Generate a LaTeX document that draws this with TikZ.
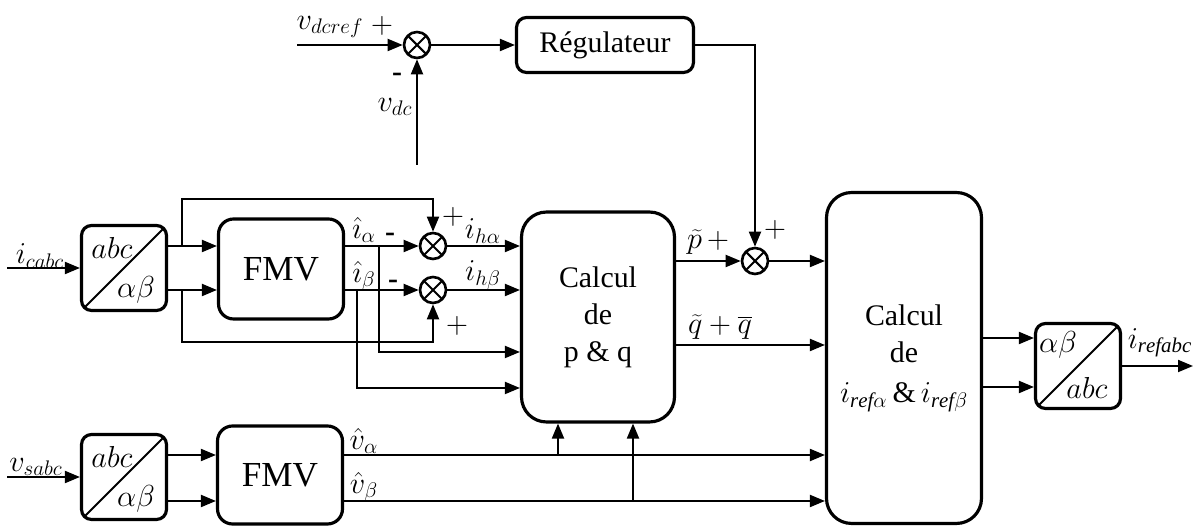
\documentclass[tikz,border=0pt]{standalone}
\usepackage{fontspec}
\setmainfont{Liberation Serif}
\usetikzlibrary{arrows.meta,positioning}

\begin{document}
\begin{tikzpicture}[x=0.02cm,y=-0.02cm,
  font=\fontsize{17}{21}\selectfont,
  conn/.style={line width=1.1pt},
  arr/.style={conn,-{Triangle[length=0.3cm,width=0.24cm]}},
  lab/.style={inner sep=1pt},
  blockbox/.style={draw,line width=1.8pt,rounded corners=0.3cm,align=center,inner sep=0pt},
  convbox/.style={draw,line width=1.8pt,rounded corners=0.2cm,minimum width=1.7cm,
    minimum height=1.7cm,inner sep=0pt,
    path picture={\draw[line width=1.1pt] (path picture bounding box.south west)
      -- (path picture bounding box.north east);}},
  sumnode/.style={circle,draw,line width=1.5pt,minimum size=0.52cm,inner sep=0pt,
    path picture={\draw[line width=1.2pt]
      ([shift={(45:0.3cm)}]path picture bounding box.center) -- ([shift={(225:0.3cm)}]path picture bounding box.center)
      ([shift={(135:0.3cm)}]path picture bounding box.center) -- ([shift={(-45:0.3cm)}]path picture bounding box.center);}}]

\useasboundingbox (0,0) rectangle (1201,526);

% ---------- DC voltage loop ----------
\node[sumnode] (s1) at (417,45) {};
\node[blockbox, minimum width=3.54cm, minimum height=1.1cm, rounded corners=0.2cm] (reg) at (605,45) {Régulateur};
\coordinate (vref) at (297,45);
\coordinate (vdcin) at (417,165);
\draw[arr] (vref) -- (s1);
\draw[arr] (vdcin) -- (s1);
\draw[arr] (s1) -- (reg);
\node[lab] (lvref) at (330,27) {$v_{dcref}$};
\node[lab] (lp1) at (382,26) {$+$};
\node[lab] (lm1) at (397,77) {\textbf{-}};
\node[lab] (lvdc) at (395,107) {$v_{dc}$};

% ---------- current branch ----------
\node[convbox] (b1) at (124,268) {};
\node[lab] (b1u) at ([shift={(-12,-20)}]b1.center) {$abc$};
\node[lab] (b1d) at ([shift={(12,22)}]b1.center) {$\alpha\beta$};
\node[blockbox, minimum width=2.5cm, minimum height=2cm, font=\fontsize{20}{24}\selectfont] (fmv1) at (281,269) {FMV};
\node[sumnode] (sa) at (433,246) {};
\node[sumnode] (sb) at (433,290) {};
\node[blockbox, minimum width=3.06cm, minimum height=4.2cm, rounded corners=0.5cm] (pq) at (598,317) {Calcul\\de\\p \& q};

\coordinate (iin) at (7,268);
\draw[arr] (iin) -- (b1);
\draw[arr] (b1.east |- sa) -- (fmv1.west |- sa);
\draw[arr] (b1.east |- sb) -- (fmv1.west |- sb);
\coordinate (ja) at (182,246);
\coordinate (jb) at (182,290);
\draw[arr] (ja) -- ++(0,-47) -| (sa.north);
\draw[arr] (jb) -- ++(0,52) -| (sb.south);
\draw[arr] (fmv1.east |- sa) -- (sa);
\draw[arr] (fmv1.east |- sb) -- (sb);
\draw[arr] (sa) -- (sa -| pq.west);
\draw[arr] (sb) -- (sb -| pq.west);
\coordinate (ka) at (379,246);
\coordinate (kb) at (357,290);
\draw[arr] (ka) |- ([yshift=-0.7cm]pq.west);
\draw[arr] (kb) |- ([yshift=-1.42cm]pq.west);

\node[lab] (licabc) at (40,256) {$i_{cabc}$};
\node[lab] (lia) at (364,230) {$\hat{\imath}_\alpha$};
\node[lab] (lib) at (364,276) {$\hat{\imath}_\beta$};
\node[lab] (lma) at (390,237) {\textbf{-}};
\node[lab] (lmb) at (393,284) {\textbf{-}};
\node[lab] (lpa) at (453,217) {$+$};
\node[lab] (liha) at (483,231) {$i_{h\alpha}$};
\node[lab] (lihb) at (483,275) {$i_{h\beta}$};
\node[lab] (lpb) at (457,326) {$+$};

% ---------- power to reference ----------
\node[sumnode] (sc) at (755,261) {};
\node[blockbox, minimum width=3.1cm, minimum height=6.62cm, rounded corners=0.5cm] (iref) at (904,358) {Calcul\\de\\[2pt]$i_{\mathit{ref}\alpha}\,\&\,i_{\mathit{ref}\beta}$};
\coordinate (qo) at ([yshift=-0.56cm]pq.east);
\draw[arr] (pq.east |- sc) -- (sc);
\draw[arr] (sc) -- (sc -| iref.west);
\draw[arr] (reg) -| (sc);
\draw[arr] (qo) -- (qo -| iref.west);

\node[lab] (lpt) at (708,242) {$\widetilde{p}\,+$};
\node[lab] (lpc) at (775,230) {$+$};
\node[lab] (lq) at (720,327) {$\widetilde{q}+\overline{q}$};

% ---------- output transform ----------
\node[convbox] (b3) at (1078,366) {};
\node[lab] (b3u) at ([shift={(-20,-21)}]b3.center) {$\alpha\beta$};
\node[lab] (b3d) at ([shift={(9,22)}]b3.center) {$abc$};
\coordinate (b3a) at ([yshift=0.56cm]b3.west);
\coordinate (b3b) at ([yshift=-0.42cm]b3.west);
\coordinate (iout) at (1193,366);
\draw[arr] (b3a -| iref.east) -- (b3a);
\draw[arr] (b3b -| iref.east) -- (b3b);
\draw[arr] (b3) -- (iout);
\node[lab] (lout) at (1160,343) {$i_{\mathit{refabc}}$};

% ---------- voltage branch ----------
\node[convbox] (b2) at (124,477) {};
\node[lab] (b2u) at ([shift={(-12,-20)}]b2.center) {$abc$};
\node[lab] (b2d) at ([shift={(12,22)}]b2.center) {$\alpha\beta$};
\node[blockbox, minimum width=2.5cm, minimum height=1.96cm, font=\fontsize{20}{24}\selectfont] (fmv2) at (280,475) {FMV};
\coordinate (vin) at (7,477);
\coordinate (va) at ([yshift=0.4cm]fmv2.east);
\coordinate (vb) at ([yshift=-0.52cm]fmv2.east);
\coordinate (ua) at (558,455);
\coordinate (ub) at (633,501);
\draw[arr] (vin) -- (b2);
\draw[arr] (b2.east |- va) -- (fmv2.west |- va);
\draw[arr] (b2.east |- vb) -- (fmv2.west |- vb);
\draw[arr] (va) -- (va -| iref.west);
\draw[arr] (vb) -- (vb -| iref.west);
\draw[arr] (ua) -- (ua |- pq.south);
\draw[arr] (ub) -- (ub |- pq.south);

\node[lab] (lvsabc) at (36,467) {$v_{sabc}$};
\node[lab] (lva) at (364,441) {$\hat{v}_\alpha$};
\node[lab] (lvb) at (364,487) {$\hat{v}_\beta$};

\end{tikzpicture}
\end{document}
